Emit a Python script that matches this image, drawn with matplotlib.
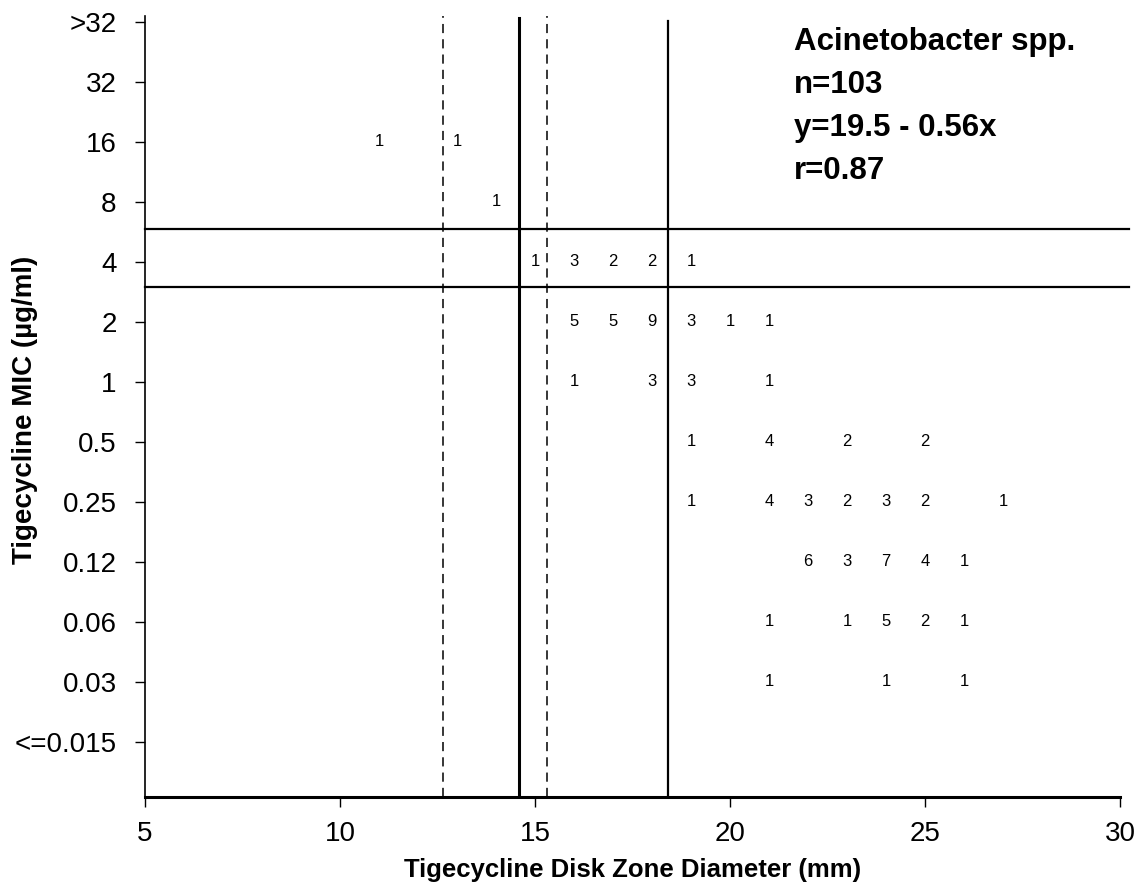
import numpy as np
import matplotlib
matplotlib.use('Agg')
import matplotlib.pyplot as plt

plt.rcParams['font.family'] = ['Liberation Sans', 'DejaVu Sans']

mic_labels = ['<=0.015', '0.03', '0.06', '0.12', '0.25', '0.5', '1', '2', '4', '8', '16', '32', '>32']

# counts per MIC row: (zone diameter, count)
rows = {
    '16':   ([11, 13], [1, 1]),
    '8':    ([14], [1]),
    '4':    ([15, 16, 17, 18, 19], [1, 3, 2, 2, 1]),
    '2':    ([16, 17, 18, 19, 20, 21], [5, 5, 9, 3, 1, 1]),
    '1':    ([16, 18, 19, 21], [1, 3, 3, 1]),
    '0.5':  ([19, 21, 23, 25], [1, 4, 2, 2]),
    '0.25': ([19, 21, 22, 23, 24, 25, 27], [1, 4, 3, 2, 3, 2, 1]),
    '0.12': ([22, 23, 24, 25, 26], [6, 3, 7, 4, 1]),
    '0.06': ([21, 23, 24, 25, 26], [1, 1, 5, 2, 1]),
    '0.03': ([21, 24, 26], [1, 1, 1]),
}

# breakpoints
disk_solid = [14.6, 18.4]
disk_dashed = [12.65, 15.3]
mic_lines = [8.55, 7.58]

fig = plt.figure(figsize=(11.37, 8.91), dpi=100)
ax = fig.add_axes([145/1137, 94/891, 975/1137, 781/891])
ax.set_xlim(5, 30)
ax.set_ylim(-0.92, 12.1)

for lab, (xs, cs) in rows.items():
    yi = mic_labels.index(lab)
    for x, c in zip(xs, cs):
        ax.text(x, yi, str(c), ha='center', va='center', fontsize=12)

ax.axvline(disk_solid[0], ymax=0.998, color='black', lw=2.2)
ax.axvline(disk_solid[1], ymax=(12.02 + 0.92) / 13.02, color='black', lw=1.6)
for x in disk_dashed:
    ax.axvline(x, color='black', lw=1.1, linestyle=(0, (6, 4)))
for y in mic_lines:
    ax.axhline(y, xmin=0, xmax=1.009, color='black', lw=1.6, clip_on=False)

ax.set_yticks(np.arange(len(mic_labels)))
ax.set_yticklabels(mic_labels)
ax.set_xticks([5, 10, 15, 20, 25, 30])
ax.tick_params(axis='both', labelsize=20, length=7.5, width=1)
ax.tick_params(axis='y', pad=13)
ax.tick_params(axis='x', pad=10)

for s in ['top', 'right']:
    ax.spines[s].set_visible(False)
ax.spines['left'].set_linewidth(1.2)
ax.spines['bottom'].set_linewidth(2.2)

ax.set_xlabel('Tigecycline Disk Zone Diameter (mm)', fontsize=18.5, fontweight='bold', labelpad=8)
fig.text(25/1137, 1 - 410/891, 'Tigecycline MIC (\u00b5g/ml)', fontsize=20, fontweight='bold',
         rotation=90, ha='center', va='center')

info = ['Acinetobacter spp.', 'n=103', 'y=19.5 - 0.56x', 'r=0.87']
for i, t in enumerate(info):
    fig.text(794/1137, 1 - (42 + 43*i)/891, t, fontsize=22.5, fontweight='bold', ha='left', va='center')

fig.savefig('out.png', dpi=100)
